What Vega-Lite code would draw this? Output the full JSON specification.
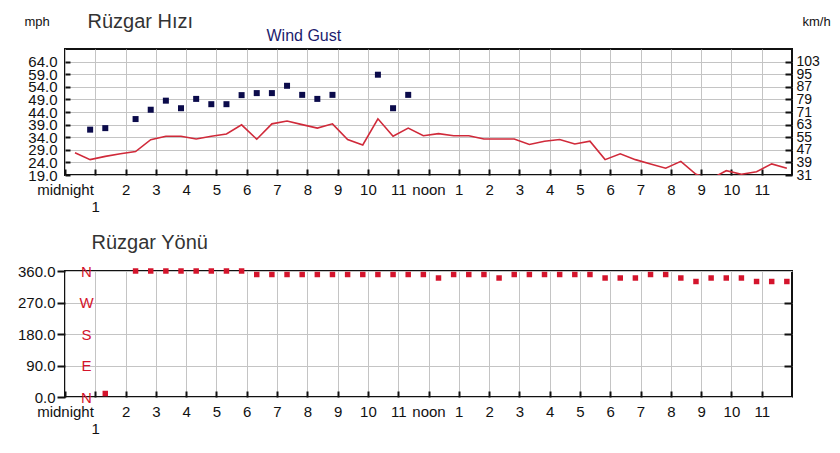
{
  "$schema": "https://vega.github.io/schema/vega-lite/v6.json",
  "background": "white",
  "autosize": {"type": "pad"},
  "padding": {"left": 16, "top": 10, "right": 2, "bottom": 4},
  "config": {
    "view": {"stroke": "#111111", "strokeWidth": 2},
    "axis": {
      "labelFont": "Liberation Sans",
      "labelColor": "#111111",
      "labelFontSize": 15,
      "domain": false,
      "gridColor": "#c4c4c4",
      "gridOpacity": 1,
      "gridWidth": 1,
      "tickColor": "#111111",
      "tickWidth": 2,
      "labelOverlap": false,
      "labelFlush": false,
      "labelBound": false,
      "titleFont": "Liberation Sans",
      "titleFontWeight": "normal",
      "titleColor": "#333333"
    }
  },
  "datasets": {
    "wind": [
      {"h": 0.33, "speed": 27.8, "gust": null, "dir": null},
      {"h": 0.83, "speed": 25.1, "gust": 37.0, "dir": null},
      {"h": 1.33, "speed": 26.4, "gust": 37.6, "dir": 10},
      {"h": 1.83, "speed": 27.4, "gust": null, "dir": null},
      {"h": 2.33, "speed": 28.3, "gust": 41.2, "dir": 360},
      {"h": 2.83, "speed": 33.0, "gust": 44.9, "dir": 360},
      {"h": 3.33, "speed": 34.4, "gust": 48.5, "dir": 360},
      {"h": 3.83, "speed": 34.4, "gust": 45.5, "dir": 360},
      {"h": 4.33, "speed": 33.3, "gust": 49.2, "dir": 360},
      {"h": 4.83, "speed": 34.4, "gust": 47.1, "dir": 360},
      {"h": 5.33, "speed": 35.3, "gust": 47.1, "dir": 360},
      {"h": 5.83, "speed": 38.9, "gust": 50.7, "dir": 360},
      {"h": 6.33, "speed": 33.2, "gust": 51.5, "dir": 350},
      {"h": 6.83, "speed": 39.3, "gust": 51.5, "dir": 350},
      {"h": 7.33, "speed": 40.4, "gust": 54.4, "dir": 350},
      {"h": 7.83, "speed": 39.0, "gust": 50.8, "dir": 350},
      {"h": 8.33, "speed": 37.6, "gust": 49.2, "dir": 350},
      {"h": 8.83, "speed": 39.3, "gust": 50.8, "dir": 350},
      {"h": 9.33, "speed": 33.1, "gust": null, "dir": 350},
      {"h": 9.83, "speed": 30.9, "gust": null, "dir": 350},
      {"h": 10.33, "speed": 41.3, "gust": 58.8, "dir": 350},
      {"h": 10.83, "speed": 34.4, "gust": 45.5, "dir": 350},
      {"h": 11.33, "speed": 37.6, "gust": 50.8, "dir": 350},
      {"h": 11.83, "speed": 34.6, "gust": null, "dir": 350},
      {"h": 12.33, "speed": 35.4, "gust": null, "dir": 340},
      {"h": 12.83, "speed": 34.6, "gust": null, "dir": 350},
      {"h": 13.33, "speed": 34.6, "gust": null, "dir": 350},
      {"h": 13.83, "speed": 33.3, "gust": null, "dir": 350},
      {"h": 14.33, "speed": 33.3, "gust": null, "dir": 340},
      {"h": 14.83, "speed": 33.3, "gust": null, "dir": 350},
      {"h": 15.33, "speed": 31.1, "gust": null, "dir": 350},
      {"h": 15.83, "speed": 32.4, "gust": null, "dir": 350},
      {"h": 16.33, "speed": 33.1, "gust": null, "dir": 350},
      {"h": 16.83, "speed": 31.3, "gust": null, "dir": 350},
      {"h": 17.33, "speed": 32.4, "gust": null, "dir": 350},
      {"h": 17.83, "speed": 25.1, "gust": null, "dir": 340},
      {"h": 18.33, "speed": 27.4, "gust": null, "dir": 340},
      {"h": 18.83, "speed": 25.1, "gust": null, "dir": 340},
      {"h": 19.33, "speed": 23.4, "gust": null, "dir": 350},
      {"h": 19.83, "speed": 21.7, "gust": null, "dir": 350},
      {"h": 20.33, "speed": 24.4, "gust": null, "dir": 340},
      {"h": 20.83, "speed": 19.3, "gust": null, "dir": 330},
      {"h": 21.33, "speed": 17.5, "gust": null, "dir": 340},
      {"h": 21.83, "speed": 20.7, "gust": null, "dir": 340},
      {"h": 22.33, "speed": 19.3, "gust": null, "dir": 340},
      {"h": 22.83, "speed": 20.3, "gust": null, "dir": 330},
      {"h": 23.33, "speed": 23.4, "gust": null, "dir": 330},
      {"h": 23.83, "speed": 21.7, "gust": null, "dir": 330}
    ]
  },
  "bounds": "flush",
  "spacing": 96,
  "vconcat": [
    {
      "width": 727,
      "height": 126,
      "data": {"name": "wind"},
      "layer": [
        {
          "mark": {"type": "line", "color": "#d02a3a", "strokeWidth": 1.6, "clip": true},
          "encoding": {
            "x": {
              "field": "h", "type": "quantitative",
              "scale": {"domain": [0, 24], "nice": false, "zero": false},
              "axis": {
                "values": [0,1,2,3,4,5,6,7,8,9,10,11,12,13,14,15,16,17,18,19,20,21,22,23],
                "labelExpr": "datum.value == 0 ? 'midnight' : datum.value == 12 ? 'noon' : datum.value == 1 ? ['', '1'] : '' + (datum.value % 12)",
                "tickSize": -6, "labelPadding": 13, "grid": true,
                "title": "Rüzgar Hızı", "titleX": 22, "titleY": -148,
                "titleAlign": "left", "titleBaseline": "alphabetic", "titleAngle": 0,
                "titleFontSize": 20
              }
            },
            "y": {
              "field": "speed", "type": "quantitative",
              "scale": {"domain": [19, 69], "nice": false, "zero": false},
              "axis": {
                "values": [19, 24, 29, 34, 39, 44, 49, 54, 59, 64],
                "format": ".1f",
                "tickSize": -5, "labelPadding": 13, "grid": true,
                "title": "mph", "titleX": -41, "titleY": -24, "titleAngle": 0,
                "titleAlign": "left", "titleBaseline": "alphabetic",
                "titleFontSize": 13, "titleColor": "#111111"
              }
            }
          }
        },
        {
          "transform": [{"filter": "isValid(datum.gust)"}],
          "mark": {"type": "square", "color": "#0b0b4b", "size": 36, "opacity": 1},
          "encoding": {
            "x": {
              "field": "h", "type": "quantitative",
              "scale": {"domain": [0, 24], "nice": false, "zero": false},
              "axis": {
                "orient": "top", "labels": false, "ticks": false, "grid": false,
                "title": "Wind Gust", "titleX": 201, "titleY": -9,
                "titleAlign": "left", "titleBaseline": "alphabetic", "titleAngle": 0,
                "titleFontSize": 16, "titleColor": "#1c1c6e"
              }
            },
            "y": {
              "field": "gust", "type": "quantitative",
              "scale": {"domain": [19, 69], "nice": false, "zero": false},
              "axis": {
                "orient": "right",
                "values": [19, 24, 29, 34, 39, 44, 49, 54, 59, 64],
                "labelExpr": "format(round(datum.value * 1.609), 'd')",
                "tickSize": -7, "labelPadding": 11, "grid": false,
                "labelFontSize": 14,
                "title": "km/h", "titleX": 10, "titleY": -24, "titleAngle": 0,
                "titleAlign": "left", "titleBaseline": "alphabetic",
                "titleFontSize": 13, "titleColor": "#111111"
              }
            }
          }
        }
      ],
      "resolve": {"axis": {"x": "independent", "y": "independent"}}
    },
    {
      "width": 727,
      "height": 126,
      "data": {"name": "wind"},
      "transform": [{"filter": "isValid(datum.dir)"}],
      "layer": [
        {
          "mark": {"type": "square", "color": "#d4142c", "size": 30, "opacity": 1},
          "encoding": {
            "x": {
              "field": "h", "type": "quantitative",
              "scale": {"domain": [0, 24], "nice": false, "zero": false},
              "axis": {
                "values": [0,1,2,3,4,5,6,7,8,9,10,11,12,13,14,15,16,17,18,19,20,21,22,23],
                "labelExpr": "datum.value == 0 ? 'midnight' : datum.value == 12 ? 'noon' : datum.value == 1 ? ['', '1'] : '' + (datum.value % 12)",
                "tickSize": -6, "labelPadding": 13, "grid": true,
                "title": "Rüzgar Yönü", "titleX": 26, "titleY": -149,
                "titleAlign": "left", "titleBaseline": "alphabetic", "titleAngle": 0,
                "titleFontSize": 20
              }
            },
            "y": {
              "field": "dir", "type": "quantitative",
              "scale": {"domain": [0, 360], "nice": false, "zero": false},
              "axis": {
                "values": [0, 90, 180, 270, 360],
                "format": ".1f",
                "tickSize": 8, "labelPadding": 2, "grid": true,
                "title": null
              }
            }
          }
        },
        {
          "mark": {"type": "square", "opacity": 0},
          "encoding": {
            "x": {"field": "h", "type": "quantitative", "scale": {"domain": [0, 24], "nice": false, "zero": false}, "axis": null},
            "y": {
              "field": "dir", "type": "quantitative",
              "scale": {"domain": [0, 360], "nice": false, "zero": false},
              "axis": {
                "orient": "left",
                "values": [0, 90, 180, 270, 360],
                "labelExpr": "datum.value == 90 ? 'E' : datum.value == 180 ? 'S' : datum.value == 270 ? 'W' : 'N'",
                "labelColor": "#d4142c", "labelFontSize": 15,
                "labelAlign": "center", "labelPadding": -21,
                "ticks": false, "grid": false, "title": null
              }
            }
          }
        },
        {
          "mark": {"type": "square", "opacity": 0},
          "encoding": {
            "x": {"field": "h", "type": "quantitative", "scale": {"domain": [0, 24], "nice": false, "zero": false}, "axis": null},
            "y": {
              "field": "dir", "type": "quantitative",
              "scale": {"domain": [0, 360], "nice": false, "zero": false},
              "axis": {
                "orient": "right",
                "values": [90, 180, 270],
                "labels": false, "tickSize": -8, "grid": false, "title": null
              }
            }
          }
        }
      ],
      "resolve": {"axis": {"x": "independent", "y": "independent"}}
    }
  ]
}
